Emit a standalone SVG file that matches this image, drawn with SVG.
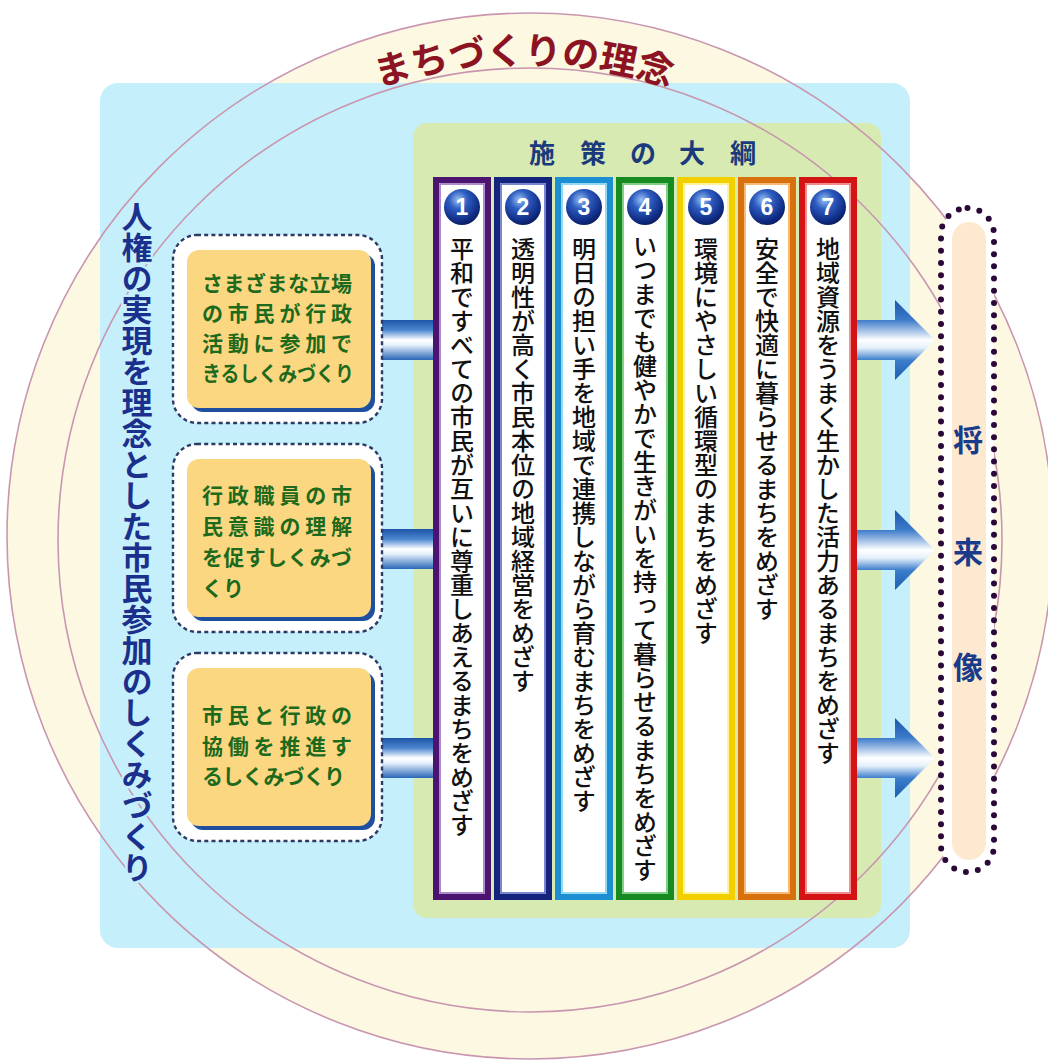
<svg xmlns="http://www.w3.org/2000/svg" width="1048" height="1064" viewBox="0 0 1048 1064">
<defs>
<style>
.jp{font-family:"Noto Sans CJK JP","Noto Sans CJK SC",sans-serif;font-weight:700}
.ring{fill:none;stroke:#c996b0;stroke-width:1.6}
.vt{writing-mode:vertical-rl}
.coltxt{font-size:24px;fill:#111;font-weight:500}
.num{font-family:"Liberation Sans",Arial,sans-serif;font-weight:700;font-size:23px;fill:#fff;text-anchor:middle}
.boxtxt{font-size:21px;fill:#1d6a1d}
.dotbox{fill:#fff;stroke:#2c3a66;stroke-width:2.4;stroke-dasharray:4 3.2}
.shadow{fill:#1f4f9f}
.orange{fill:#fcd782}
.bar{fill:url(#barGrad)}
.arrow{fill:url(#arrowGrad)}
.colw{fill:#fff;stroke-width:6}
.coli{fill:none;stroke-width:1.6}
</style>
<linearGradient id="barGrad" x1="0" y1="0" x2="0" y2="1">
<stop offset="0" stop-color="#1e54a6"/>
<stop offset="0.25" stop-color="#4b86cf"/>
<stop offset="0.5" stop-color="#ffffff"/>
<stop offset="0.62" stop-color="#e6f2fc"/>
<stop offset="1" stop-color="#2a66b8"/>
</linearGradient>
<linearGradient id="arrowGrad" x1="0" y1="0" x2="0" y2="1">
<stop offset="0" stop-color="#1c55a8"/>
<stop offset="0.25" stop-color="#3d7bca"/>
<stop offset="0.5" stop-color="#ffffff"/>
<stop offset="0.6" stop-color="#e4f0fb"/>
<stop offset="0.75" stop-color="#3d7ecc"/>
<stop offset="1" stop-color="#1a5cb0"/>
</linearGradient>
<radialGradient id="ball" cx="0.4" cy="0.3" r="0.75">
<stop offset="0" stop-color="#9cc2f2"/>
<stop offset="0.35" stop-color="#2d5cc0"/>
<stop offset="0.8" stop-color="#0f2a82"/>
<stop offset="1" stop-color="#0a1a55"/>
</radialGradient>
<path id="titleArc" d="M218,175.4 A476,476 0 0 1 830,175.4"/>
</defs>

<rect width="1048" height="1064" fill="#ffffff"/>
<circle cx="530" cy="536" r="523" fill="#fcf8e2"/>

<g id="panel-rinen">
<rect x="100" y="83" width="810" height="865" rx="18" fill="#c5effa"/>
</g>
<g id="panel-taiko">
<rect x="413" y="123" width="468" height="795" rx="14" fill="#d6eab2"/>
</g>

<g id="rings">
<circle class="ring" cx="530" cy="536" r="523"/>
<circle class="ring" cx="530" cy="540" r="472"/>
</g>

<g id="title">
<text class="jp" font-size="37" fill="#8c1422"><textPath href="#titleArc" startOffset="50%" text-anchor="middle">まちづくりの理念</textPath></text>
</g>

<g id="left-label">
<text class="jp vt" x="137" y="201" font-size="31" fill="#1b2f8c" stroke="#c5effa" stroke-width="5" paint-order="stroke" stroke-linejoin="round">人権の実現を理念とした市民参加のしくみづくり</text>
</g>

<g id="connectors">
<rect class="bar" x="368" y="320" width="67" height="40"/>
<rect class="bar" x="368" y="529" width="67" height="40"/>
<rect class="bar" x="368" y="738" width="67" height="40"/>
<path class="arrow" d="M856,320 H895 V300 L935,340 L895,380 V360 H856 Z"/>
<path class="arrow" d="M856,530 H895 V510 L935,550 L895,590 V570 H856 Z"/>
<path class="arrow" d="M856,738 H895 V718 L935,758 L895,798 V778 H856 Z"/>
</g>

<g id="box1">
<rect class="dotbox" x="173" y="235" width="209" height="188" rx="24"/>
<rect class="shadow" x="191" y="254" width="184" height="158" rx="12"/>
<rect class="orange" x="187" y="250" width="184" height="158" rx="12"/>
<text class="jp boxtxt" x="202"><tspan x="202" y="291" textLength="150" lengthAdjust="spacing">さまざまな立場</tspan><tspan x="202" y="321" textLength="150" lengthAdjust="spacing">の市民が行政</tspan><tspan x="202" y="351" textLength="150" lengthAdjust="spacing">活動に参加で</tspan><tspan x="202" y="381" textLength="152" lengthAdjust="spacingAndGlyphs">きるしくみづくり</tspan></text>
</g>

<g id="box2">
<rect class="dotbox" x="173" y="444" width="209" height="188" rx="24"/>
<rect class="shadow" x="191" y="463" width="184" height="158" rx="12"/>
<rect class="orange" x="187" y="459" width="184" height="158" rx="12"/>
<text class="jp boxtxt" x="202"><tspan x="202" y="503" textLength="150" lengthAdjust="spacing">行政職員の市</tspan><tspan x="202" y="534" textLength="150" lengthAdjust="spacing">民意識の理解</tspan><tspan x="202" y="565" textLength="150" lengthAdjust="spacing">を促すしくみづ</tspan><tspan x="202" y="596">くり</tspan></text>
</g>

<g id="box3">
<rect class="dotbox" x="173" y="653" width="209" height="188" rx="24"/>
<rect class="shadow" x="191" y="672" width="184" height="158" rx="12"/>
<rect class="orange" x="187" y="668" width="184" height="158" rx="12"/>
<text class="jp boxtxt" x="202"><tspan x="202" y="723" textLength="150" lengthAdjust="spacing">市民と行政の</tspan><tspan x="202" y="754" textLength="150" lengthAdjust="spacing">協働を推進す</tspan><tspan x="202" y="784" textLength="143" lengthAdjust="spacing">るしくみづくり</tspan></text>
</g>

<g id="heading">
<text class="jp" font-size="26" fill="#1a3a7c" text-anchor="middle" x="542 593 643 692 743" y="163">施策の大綱</text>
</g>

<g id="col1">
<rect class="colw" x="436" y="180" width="52" height="717" stroke="#4a1470"/>
<rect class="coli" x="440" y="184" width="44" height="709" stroke="#9a70c0"/>
<circle cx="462" cy="207" r="18" fill="url(#ball)"/>
<text class="num" x="462" y="215">1</text>
<text class="jp vt coltxt" x="462" y="237">平和ですべての市民が互いに尊重しあえるまちをめざす</text>
</g>
<g id="col2">
<rect class="colw" x="497" y="180" width="52" height="717" stroke="#14237e"/>
<rect class="coli" x="501" y="184" width="44" height="709" stroke="#5a6ac0"/>
<circle cx="523" cy="207" r="18" fill="url(#ball)"/>
<text class="num" x="523" y="215">2</text>
<text class="jp vt coltxt" x="523" y="237">透明性が高く市民本位の地域経営をめざす</text>
</g>
<g id="col3">
<rect class="colw" x="558" y="180" width="52" height="717" stroke="#1b8fd2"/>
<rect class="coli" x="562" y="184" width="44" height="709" stroke="#7ad0f2"/>
<circle cx="584" cy="207" r="18" fill="url(#ball)"/>
<text class="num" x="584" y="215">3</text>
<text class="jp vt coltxt" x="584" y="237">明日の担い手を地域で連携しながら育むまちをめざす</text>
</g>
<g id="col4">
<rect class="colw" x="619" y="180" width="52" height="717" stroke="#178a22"/>
<rect class="coli" x="623" y="184" width="44" height="709" stroke="#66c46a"/>
<circle cx="645" cy="207" r="18" fill="url(#ball)"/>
<text class="num" x="645" y="215">4</text>
<text class="jp vt coltxt" x="645" y="234">いつまでも健やかで生きがいを持って暮らせるまちをめざす</text>
</g>
<g id="col5">
<rect class="colw" x="680" y="180" width="52" height="717" stroke="#f2d000"/>
<rect class="coli" x="684" y="184" width="44" height="709" stroke="#fff080"/>
<circle cx="706" cy="207" r="18" fill="url(#ball)"/>
<text class="num" x="706" y="215">5</text>
<text class="jp vt coltxt" x="706" y="237">環境にやさしい循環型のまちをめざす</text>
</g>
<g id="col6">
<rect class="colw" x="741" y="180" width="52" height="717" stroke="#d8700e"/>
<rect class="coli" x="745" y="184" width="44" height="709" stroke="#f6aa55"/>
<circle cx="767" cy="207" r="18" fill="url(#ball)"/>
<text class="num" x="767" y="215">6</text>
<text class="jp vt coltxt" x="767" y="237">安全で快適に暮らせるまちをめざす</text>
</g>
<g id="col7">
<rect class="colw" x="802" y="180" width="52" height="717" stroke="#d41414"/>
<rect class="coli" x="806" y="184" width="44" height="709" stroke="#f07070"/>
<circle cx="828" cy="207" r="18" fill="url(#ball)"/>
<text class="num" x="828" y="215">7</text>
<text class="jp vt coltxt" x="828" y="237">地域資源をうまく生かした活力あるまちをめざす</text>
</g>

<g id="future">
<rect x="941" y="208" width="53" height="664" rx="26.5" fill="#fff" stroke="#2a0838" stroke-width="6" stroke-dasharray="0 12.2" stroke-linecap="round"/>
<rect x="952" y="222" width="34" height="638" rx="17" fill="#fde9cf"/>
<text class="jp" font-size="30" fill="#1a3a8a" text-anchor="middle" x="968"><tspan x="968" y="451">将</tspan><tspan x="968" y="563">来</tspan><tspan x="968" y="678">像</tspan></text>
</g>
</svg>
